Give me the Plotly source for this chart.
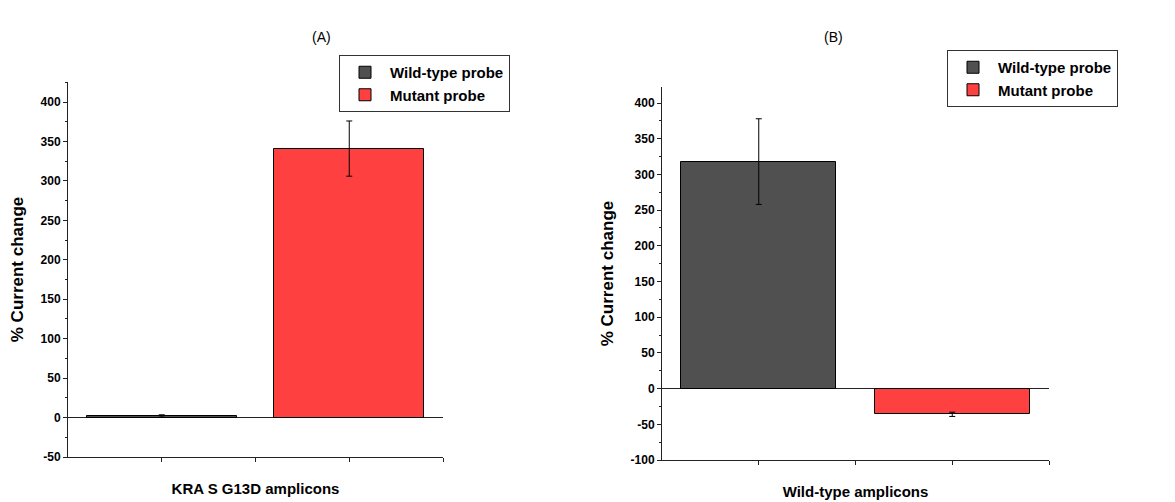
import plotly.graph_objects as go

W, H = 1175, 502

# ---- data ----
probes = ["Wild-type probe", "Mutant probe"]
probe_colors = ["#505050", "#FF4040"]

panel_titles = ["(A)", "(B)"]
amplicons = ["KRA S G13D amplicons", "Wild-type amplicons"]

# panel A: KRAS G13D amplicons
a_values = [2.0, 341.0]
a_errors = [1.5, 35.0]
# panel B: Wild-type amplicons
b_values = [318.0, -36.0]
b_errors = [60.0, 3.0]

a_yticks = [-50, 0, 50, 100, 150, 200, 250, 300, 350, 400]
b_yticks = [-100, -50, 0, 50, 100, 150, 200, 250, 300, 350, 400]

FONT = "Liberation Sans"

def px_x(p):
    return p / W

def px_y(p):
    return 1 - p / H

fig = go.Figure()

panels = [
    dict(vals=a_values, errs=a_errors, xa="x", ya="y", legend="legend"),
    dict(vals=b_values, errs=b_errors, xa="x2", ya="y2", legend="legend2"),
]
for pnl in panels:
    for i, name in enumerate(probes):
        fig.add_trace(go.Bar(
            x=[i + 1], y=[pnl["vals"][i]], name=name,
            xaxis=pnl["xa"], yaxis=pnl["ya"], legend=pnl["legend"],
            width=0.8,
            marker=dict(color=probe_colors[i], line=dict(color="black", width=1)),
            error_y=dict(type="data", array=[pnl["errs"][i]], color="black",
                         thickness=1, width=3),
        ))

axis_common = dict(
    showline=True, linecolor="#222222", linewidth=1, showgrid=False,
    ticks="outside", ticklen=4, tickcolor="#222222", automargin=False,
)

xcommon = dict(axis_common, range=[0.5, 2.5], tickvals=[1, 1.5, 2, 2.5],
               showticklabels=False, zeroline=False,
               title_font=dict(family=FONT, size=15, color="black", weight="bold"),
               title_standoff=22)
ycommon = dict(axis_common, zeroline=True, zerolinecolor="#222222", zerolinewidth=1,
               tickfont=dict(family=FONT, size=12, color="black", weight="bold"),
               minor=dict(ticks="outside", ticklen=2, tickcolor="#222222", dtick=25),
               title=dict(text="% Current change",
                          font=dict(family=FONT, size=17, color="black", weight="bold")))

fig.update_layout(
    width=W, height=H,
    margin=dict(l=0, r=0, t=0, b=0, autoexpand=False),
    paper_bgcolor="white", plot_bgcolor="white",
    bargap=0,
    xaxis=dict(xcommon, domain=[px_x(68), px_x(443)], anchor="y",
               title=dict(text=amplicons[0])),
    yaxis=dict(ycommon, domain=[px_y(457), px_y(82)], anchor="x",
               range=[-50, 425.4], tickvals=a_yticks,
               ticktext=[str(v) for v in a_yticks], title_standoff=12),
    xaxis2=dict(xcommon, domain=[px_x(662), px_x(1049)], anchor="y2",
                title=dict(text=amplicons[1])),
    yaxis2=dict(ycommon, domain=[px_y(460), px_y(87)], anchor="x2",
                range=[-100, 422.5], tickvals=b_yticks,
                ticktext=[str(v) for v in b_yticks], title_standoff=12),
    legend=dict(x=px_x(339), y=px_y(55), xanchor="left", yanchor="top",
                bordercolor="#333333", borderwidth=1, bgcolor="white",
                font=dict(family=FONT, size=15, color="black", weight="bold"),
                tracegroupgap=0, itemwidth=40),
    legend2=dict(x=px_x(947), y=px_y(50), xanchor="left", yanchor="top",
                 bordercolor="#333333", borderwidth=1, bgcolor="white",
                 font=dict(family=FONT, size=15, color="black", weight="bold"),
                 tracegroupgap=0, itemwidth=40),
    showlegend=True,
    annotations=[
        dict(text=panel_titles[0], x=px_x(310), y=px_y(27), xref="paper", yref="paper",
             showarrow=False, font=dict(family=FONT, size=14, color="black")),
        dict(text=panel_titles[1], x=px_x(845), y=px_y(27), xref="paper", yref="paper",
             showarrow=False, font=dict(family=FONT, size=14, color="black")),
    ],
)

fig.write_html("out.html",
               config={"displayModeBar": False},
               post_script="document.body.style.margin='0';document.body.style.overflow='hidden';")
